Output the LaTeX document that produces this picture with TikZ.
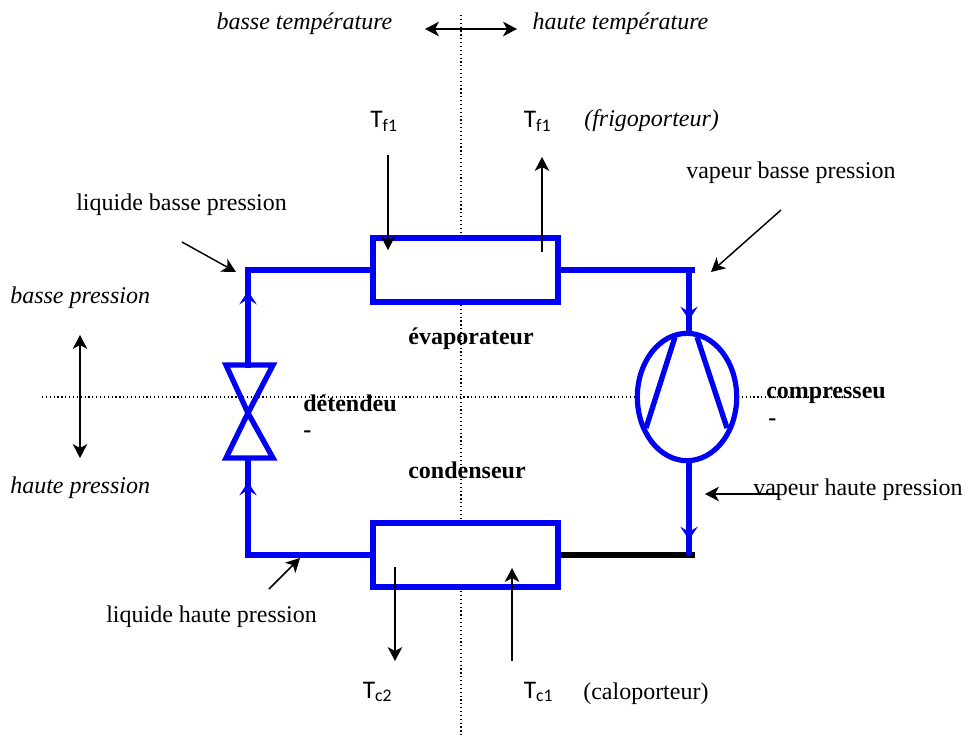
\documentclass[tikz,border=0pt]{standalone}
\usepackage{fontspec}
\setmainfont{Liberation Serif}
\newfontfamily\calibrifont{Carlito}
\usetikzlibrary{arrows.meta,positioning,shapes.geometric}
\begin{document}
\begin{tikzpicture}[
  x=0.75pt, y=-0.75pt,
  every node/.style={font=\fontsize{18}{21}\selectfont, inner sep=0pt},
  unitbox/.style={draw=pipeblue, fill=white, line width=4.3pt, minimum width=138.5pt, minimum height=48pt},
  pipe/.style={draw=pipeblue, line width=4pt},
  pipeflow/.style={pipe, -{Stealth[length=10pt, width=13pt, inset=4pt]}},
  thin flow/.style={-{Stealth[length=10.5pt, width=11pt, inset=3pt]}, line width=1.1pt},
  both flow/.style={{Stealth[length=10.5pt, width=11pt, inset=3pt]}-{Stealth[length=10.5pt, width=11pt, inset=3pt]}, line width=1.1pt},
  axisline/.style={dotted, line width=0.9pt},
  zonetext/.style={font=\fontsize{18}{21}\selectfont\itshape},
  unittext/.style={font=\fontsize{18}{21}\selectfont\bfseries},
  tempname/.style={font=\fontsize{19}{22}\selectfont\calibrifont},
]
\definecolor{pipeblue}{RGB}{0,0,245}
\path[use as bounding box] (0,0) rectangle (966,740);

% axes
\coordinate (vtop) at (461,15);
\coordinate (vbot) at (461,738);
\coordinate (hleft) at (42,397);
\coordinate (hright) at (843,397);
\draw[axisline] (vtop) -- (vbot);
\draw[axisline] (hleft) -- (hright);

% exchangers and compressor
\node[unitbox] (evap) at (465.5,270) {};
\node[unitbox] (cond) at (465.5,555) {};
\node[ellipse, draw=pipeblue, fill=white, line width=3.9pt, minimum width=74.5pt, minimum height=95.5pt] (comp) at (687,397) {};

% pipe corners and flow marks
\coordinate (ctl) at (248,270);
\coordinate (ctr) at (689,270);
\coordinate (cbl) at (248,555);
\coordinate (cbr) at (689,555);
\coordinate (vup) at (248,365);
\coordinate (vmid) at (248,413);
\coordinate (vlow) at (248,458);
\coordinate (tipa) at (248,291);
\coordinate (tipb) at (248,482);
\coordinate (tipc) at (689,320);
\coordinate (tipd) at (689,540);

% valve
\draw[pipe, line join=miter] (vmid) -- (226,365) -- (273,365) -- cycle;
\draw[pipe, line join=miter] (vmid) -- (226,458) -- (273,458) -- cycle;

% piping
\draw[pipe, line cap=rect] (evap.west) -- (ctl) -- (vup);
\draw[pipeflow] (vup) -- (tipa);
\draw[pipe] (evap.east) -- (695,270);
\draw[pipe] (ctr) -- (ctr |- comp.north);
\draw[pipeflow] (ctr) -- (tipc);
\draw[pipe, draw=black] (cond.east) -- (695,555);
\draw[pipe] (cbr |- comp.south) -- (cbr);
\draw[pipeflow] (cbr |- comp.south) -- (tipd);
\draw[pipe] (cond.west) -- (cbl) -- (vlow);
\draw[pipeflow] (cbl) -- (tipb);

% compressor blades
\draw[pipe] (675,337) -- (646,428);
\draw[pipe] (697,337) -- (727,428);

% texts
\node[zonetext, anchor=base] (lowtemp) at (304.5,29) {basse température};
\node[zonetext, anchor=base] (hightemp) at (620.5,29) {haute température};
\node[zonetext, anchor=base west] (lowpress) at (10,303) {basse pression};
\node[zonetext, anchor=base west] (highpress) at (10,493) {haute pression};
\node[tempname, anchor=base] (tfa) at (384,127) {T\textsubscript{f1}};
\node[tempname, anchor=base] (tfb) at (537.5,127) {T\textsubscript{f1}};
\node[zonetext, anchor=base west] (frigo) at (584,126) {(frigoporteur)};
\node[tempname, anchor=base] (tcb) at (377.5,698) {T\textsubscript{c2}};
\node[tempname, anchor=base] (tca) at (538.5,698) {T\textsubscript{c1}};
\node[anchor=base west] (calo) at (583,699) {(caloporteur)};
\node[anchor=base west] (vbp) at (686,178) {vapeur basse pression};
\node[anchor=base west] (lbp) at (76,210) {liquide basse pression};
\node[anchor=base west] (vhp) at (753,495) {vapeur haute pression};
\node[anchor=base west] (lhp) at (106,622) {liquide haute pression};
\node[unittext, anchor=base] (evapname) at (471,344) {évaporateur};
\node[unittext, anchor=base] (condname) at (467,478) {condenseur};
\node[unittext, anchor=base west] (detname) at (303,411) {détendeu};
\node[unittext, anchor=base west] (compname) at (766,398) {compresseu};
\node[unittext, anchor=base west] (detdash) at (303,437) {-};
\node[unittext, anchor=base west] (compdash) at (768,425) {-};

% thin arrows
\coordinate (tfain) at (388,155);
\coordinate (tfaend) at (388,250);
\coordinate (tfbin) at (542,252);
\coordinate (tfbend) at (542,157);
\coordinate (tcbin) at (395,567);
\coordinate (tcbend) at (395,661);
\coordinate (tcain) at (512,661);
\coordinate (tcaend) at (512,568);
\draw[thin flow] (tfain) -- (tfaend);
\draw[thin flow] (tfbin) -- (tfbend);
\draw[thin flow] (tcbin) -- (tcbend);
\draw[thin flow] (tcain) -- (tcaend);
\coordinate (lbpa) at (182,242);
\coordinate (lbpb) at (236,272);
\coordinate (vbpa) at (781,210);
\coordinate (vbpb) at (711,272);
\coordinate (vhpa) at (778,494);
\coordinate (vhpb) at (705,494);
\coordinate (lhpa) at (269,589);
\coordinate (lhpb) at (300,558);
\draw[thin flow] (lbpa) -- (lbpb);
\draw[thin flow] (vbpa) -- (vbpb);
\draw[thin flow] (vhpa) -- (vhpb);
\draw[thin flow] (lhpa) -- (lhpb);
\coordinate (tempa) at (425,29);
\coordinate (tempb) at (517,29);
\coordinate (pressa) at (80,335);
\coordinate (pressb) at (80,458);
\draw[both flow] (tempa) -- (tempb);
\draw[both flow] (pressa) -- (pressb);
\end{tikzpicture}
\end{document}
